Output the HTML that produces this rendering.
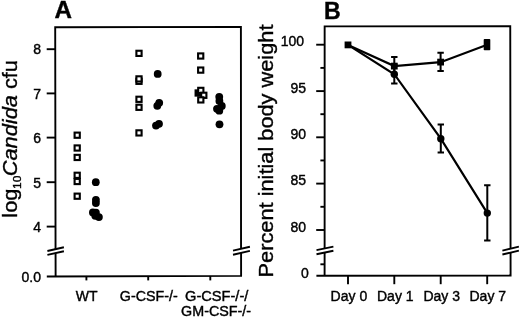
<!DOCTYPE html>
<html><head><meta charset="utf-8"><title>Figure</title>
<style>html,body{margin:0;padding:0;background:#fff}svg{display:block}</style>
</head><body>
<svg width="520" height="318" viewBox="0 0 520 318">
<defs><filter id="b" x="0" y="0" width="520" height="318" filterUnits="userSpaceOnUse"><feGaussianBlur stdDeviation="0.45"/></filter></defs>
<rect width="520" height="318" fill="#fff"/>
<g filter="url(#b)">
<g fill="none" stroke="#000" stroke-width="1.9" stroke-linecap="butt">
<path d="M55.55,249.2 L55.2,27.25 L240.9,26.9 L241.05,248.8 M241.08,252.9 L241.1,275.9 L46.8,276.45 M55.62,276.4 L55.57,253.2"/>
<path d="M46.7,49.2 H55.35"/>
<path d="M46.7,93.4 H55.35"/>
<path d="M46.7,137.6 H55.35"/>
<path d="M46.7,182.2 H55.35"/>
<path d="M46.7,226.6 H55.35"/>
<path d="M86.4,275.95 V280.4"/>
<path d="M148.2,275.95 V280.4"/>
<path d="M210.3,275.95 V280.4"/>
<path d="M47.4,251 L63.9,247.3 M47.4,254.9 L63.9,251.3"/>
<path d="M233,250.6 L249.9,246.8 M233,254.7 L249.9,250.9"/>
<path d="M324.63,248.4 L324.65,26.4 L510.25,26.2 L510.55,248.7 M510.56,252.5 L510.6,275.5 L316.4,275.75 M324.6,275.7 L324.62,252.4"/>
<path d="M316.2,44.7 H324.7"/>
<path d="M316.2,91.1 H324.7"/>
<path d="M316.2,137.3 H324.7"/>
<path d="M316.2,183.6 H324.7"/>
<path d="M316.2,230.0 H324.7"/>
<path d="M320.4,67.9 H324.7"/>
<path d="M320.4,114.2 H324.7"/>
<path d="M320.4,160.45 H324.7"/>
<path d="M320.4,206.8 H324.7"/>
<path d="M320.4,264.3 H324.7"/>
<path d="M348,275.6 V284.2"/>
<path d="M394.3,275.6 V284.2"/>
<path d="M440.7,275.6 V284.2"/>
<path d="M487.2,275.6 V284.2"/>
<path d="M316.5,250.1 L333.4,246.6 M316.5,254.2 L333.4,250.7"/>
<path d="M502.4,250.6 L518.9,246.7 M502.4,254.5 L518.9,250.6"/>
</g>
<g fill="#fff" stroke="#000" stroke-width="2.1">
<rect x="74.60" y="132.60" width="5.2" height="5.2"/>
<rect x="74.60" y="145.40" width="5.2" height="5.2"/>
<rect x="74.60" y="154.85" width="5.2" height="5.2"/>
<rect x="74.60" y="178.90" width="5.2" height="5.2"/>
<rect x="74.60" y="172.70" width="5.2" height="5.2"/>
<rect x="74.60" y="193.60" width="5.2" height="5.2"/>
<rect x="136.40" y="50.75" width="5.2" height="5.2"/>
<rect x="136.40" y="78.70" width="5.2" height="5.2"/>
<rect x="136.40" y="76.30" width="5.2" height="5.2"/>
<rect x="136.40" y="104.70" width="5.2" height="5.2"/>
<rect x="136.40" y="96.70" width="5.2" height="5.2"/>
<rect x="136.40" y="130.30" width="5.2" height="5.2"/>
<rect x="198.10" y="53.40" width="5.2" height="5.2"/>
<rect x="198.10" y="67.50" width="5.2" height="5.2"/>
<rect x="195.60" y="90.40" width="5.2" height="5.2" fill="#000"/>
<rect x="198.20" y="87.80" width="5.2" height="5.2"/>
<rect x="201.20" y="92.70" width="5.2" height="5.2"/>
<rect x="198.20" y="97.30" width="5.2" height="5.2"/>
</g>
<g fill="#000">
<circle cx="95.8" cy="182.2" r="3.9"/>
<circle cx="95.9" cy="199.8" r="3.9"/>
<circle cx="95.9" cy="203.0" r="3.9"/>
<circle cx="92.9" cy="212.5" r="3.9"/>
<circle cx="95.9" cy="212.7" r="3.9"/>
<circle cx="95.3" cy="215.8" r="3.9"/>
<circle cx="98.9" cy="217.1" r="3.9"/>
<circle cx="157.7" cy="73.9" r="3.9"/>
<circle cx="159.2" cy="102.8" r="3.9"/>
<circle cx="157.3" cy="105.8" r="3.9"/>
<circle cx="159" cy="123.8" r="3.9"/>
<circle cx="156" cy="125.6" r="3.9"/>
<circle cx="219.25" cy="96.8" r="3.9"/>
<circle cx="219.4" cy="101" r="3.9"/>
<circle cx="221.8" cy="106" r="3.9"/>
<circle cx="217" cy="108.8" r="3.9"/>
<circle cx="219.3" cy="110.7" r="3.9"/>
<circle cx="219.5" cy="124.3" r="3.9"/>
</g>
<g fill="none" stroke="#000" stroke-width="2.2">
<path d="M348,44.9 L394.3,66.1 L440.6,62.2 L487.2,44.8"/>
<path d="M348,44.9 L394.3,74.2 L440.8,138.7 L487.3,213.1"/>
</g>
<g fill="none" stroke="#000" stroke-width="2.0">
<path d="M394.3,57.1 V74.6 M391.1,57.1 H397.5 M391.1,74.6 H397.5"/>
<path d="M394.3,64.8 V83.4 M391.1,64.8 H397.5 M391.1,83.4 H397.5"/>
<path d="M440.6,52.8 V70.9 M437.40000000000003,52.8 H443.8 M437.40000000000003,70.9 H443.8"/>
<path d="M440.8,124.6 V152.5 M437.6,124.6 H444.0 M437.6,152.5 H444.0"/>
<path d="M487.3,185.2 V240.6 M484.1,185.2 H490.5 M484.1,240.6 H490.5"/>
</g>
<g fill="#000">
<rect x="483.7" y="39.1" width="6.6" height="11.2" rx="0.8"/>
<rect x="344.6" y="41.5" width="6.8" height="6.8"/>
<rect x="390.9" y="62.7" width="6.8" height="6.8"/>
<rect x="437.2" y="58.7" width="6.8" height="6.8"/>
<circle cx="394.3" cy="74.2" r="3.7"/>
<circle cx="440.8" cy="138.7" r="3.7"/>
<circle cx="487.3" cy="213.1" r="3.7"/>
</g>
<g font-family="'Liberation Sans', sans-serif" fill="#000" stroke="#000" stroke-width="0.4">
<text x="54.6" y="18.45" font-size="24.2" font-weight="bold">A</text>
<text x="324.1" y="18.7" font-size="23.1" font-weight="bold">B</text>
<g font-size="14" text-anchor="end">
<text x="41" y="54.3">8</text>
<text x="41" y="98.5">7</text>
<text x="41" y="142.9">6</text>
<text x="41" y="187.5">5</text>
<text x="41" y="231.7">4</text>
<text x="41" y="281.6">0.0</text>
<text x="304.0" y="46.3">100</text>
<text x="306.1" y="92.7">95</text>
<text x="306.1" y="138.9">90</text>
<text x="306.1" y="185.2">85</text>
<text x="306.1" y="231.6">80</text>
<text x="308.9" y="277.9">0</text>
</g>
<g font-size="14" text-anchor="middle">
<text x="86.6" y="300.7">WT</text>
<text x="148.75" y="300.7" textLength="57.9" lengthAdjust="spacingAndGlyphs">G-CSF-/-</text>
<text x="216.7" y="300.7" textLength="63.3" lengthAdjust="spacingAndGlyphs">G-CSF-/-/</text>
<text x="216.1" y="316.2" textLength="70" lengthAdjust="spacingAndGlyphs">GM-CSF-/-</text>
<text x="348.9" y="300.6">Day 0</text>
<text x="395.3" y="300.6">Day 1</text>
<text x="441.7" y="300.6">Day 3</text>
<text x="487.8" y="300.6">Day 7</text>
</g>
<g font-size="21.8">
<text transform="translate(17.3,217.7) rotate(-90) scale(1,0.935)">log</text>
<text transform="translate(20.9,188.9) rotate(-90) scale(1,0.935)" font-size="12">10</text>
<text transform="translate(17.3,176.3) rotate(-90) scale(1,0.935)"><tspan font-style="italic">Candida</tspan> cfu</text>
</g>
<text transform="translate(273.3,277.4) rotate(-90) scale(1,0.945)" font-size="21.78">Percent initial body weight</text>
</g>
</g>
</svg>
</body></html>
